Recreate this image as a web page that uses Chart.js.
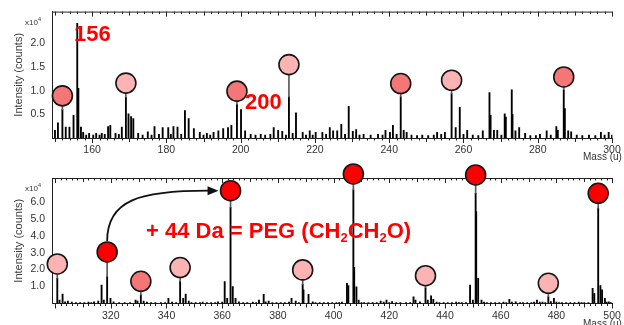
<!DOCTYPE html>
<html><head><meta charset="utf-8">
<script src="https://cdn.jsdelivr.net/npm/chart.js@4.4.1/dist/chart.umd.min.js"></script>
<style>
html,body{margin:0;padding:0;background:#fff;overflow:hidden;}
#wrap{position:relative;width:624px;height:325px;font-family:"Liberation Sans",Arial,sans-serif;}
canvas{position:absolute;left:0;}
#c1{top:0;}
#c2{top:160px;}
.lbl{position:absolute;white-space:nowrap;}
.red{color:#ff0000;font-weight:bold;font-size:22px;line-height:22px;}
.red span{font-size:13px;position:relative;top:4px;}
.mult{font-size:8px;line-height:8px;color:#333;}
.mult span{font-size:5.5px;position:relative;top:-4px;}
.mass{font-size:10px;line-height:10px;color:#333;}
</style></head>
<body><div id="wrap">
<canvas id="c1" width="624" height="160"></canvas>
<canvas id="c2" width="624" height="165"></canvas>
<div class="lbl red" style="left:74px;top:23px;">156</div>
<div class="lbl red" style="left:245px;top:91px;">200</div>
<div class="lbl red" style="left:146px;top:220px;">+ 44 Da = PEG (CH<span>2</span>CH<span>2</span>O)</div>
<div class="lbl mult" style="left:25px;top:19px;">x10<span>4</span></div>
<div class="lbl mult" style="left:25px;top:185px;">x10<span>4</span></div>
<div class="lbl mass" style="left:583px;top:152px;">Mass (u)</div>
<div class="lbl mass" style="left:583px;top:319px;">Mass (u)</div>
</div>
<script>
// ---- Top spectrum (intensity in units of 10^4 counts) ----
const topMass = [150.0,150.8,152.0,152.9,153.9,155.0,156.0,156.3,157.0,157.6,158.4,159.2,160.3,161.1,162.0,162.6,163.4,164.3,164.9,166.3,167.2,168.0,169.1,169.8,170.5,171.1,172.4,173.6,175.0,176.0,176.8,178.0,179.0,180.5,181.2,181.9,183.0,184.0,185.0,186.0,187.4,189.0,190.0,190.9,191.8,192.7,194.0,195.3,196.6,197.5,199.0,200.1,201.2,202.7,204.0,205.4,206.6,208.0,208.9,210.1,211.2,212.2,213.0,214.0,214.9,216.7,217.6,218.6,219.4,220.2,222.0,223.0,224.0,224.9,226.0,227.1,228.1,229.1,230.2,231.1,232.0,233.1,235.0,237.0,238.2,239.0,240.2,241.0,242.0,243.1,243.9,244.7,246.0,247.5,248.9,250.5,252.0,252.9,254.0,255.0,256.8,257.9,259.0,260.0,261.0,262.5,264.0,265.2,267.0,267.3,268.2,269.1,270.2,271.1,271.4,273.0,273.2,274.0,275.0,276.6,278.0,279.5,280.6,282.4,283.5,285.0,285.4,287.0,287.3,288.2,289.0,290.5,292.0,293.8,295.5,297.0,298.0,299.1,300.0];
const topInt  = [0.16,0.32,0.60,0.23,0.23,0.48,2.42,1.05,0.23,0.12,0.06,0.10,0.06,0.10,0.06,0.10,0.08,0.24,0.27,0.10,0.08,0.23,0.86,0.51,0.45,0.41,0.10,0.06,0.13,0.06,0.24,0.08,0.22,0.22,0.08,0.24,0.23,0.08,0.58,0.41,0.20,0.12,0.06,0.10,0.06,0.12,0.15,0.20,0.22,0.27,0.71,0.60,0.15,0.08,0.06,0.08,0.06,0.08,0.22,0.16,0.14,0.06,0.87,0.10,0.53,0.12,0.06,0.15,0.06,0.12,0.12,0.08,0.22,0.15,0.15,0.29,0.08,0.67,0.14,0.18,0.06,0.08,0.06,0.08,0.06,0.16,0.12,0.27,0.08,0.87,0.16,0.12,0.06,0.05,0.06,0.05,0.06,0.12,0.08,0.12,0.94,0.22,0.65,0.08,0.16,0.06,0.05,0.15,0.96,0.48,0.16,0.16,0.06,0.51,0.44,1.02,0.50,0.15,0.22,0.10,0.05,0.05,0.08,0.15,0.06,0.24,0.16,1.02,0.62,0.15,0.13,0.06,0.05,0.06,0.05,0.12,0.06,0.12,0.06];
const topCircMass = [152.0,169.1,199.0,213.0,243.1,256.8,287.0];
const topCircPeak = [0.60,0.86,0.71,0.87,0.87,0.94,1.02];
const topCircInt  = [0.89,1.16,0.99,1.55,1.15,1.22,1.29];
const topCircKind = ['s','p','s','p','s','p','s'];
const topXLabels = [160,180,200,220,240,260,280,300];
const topYLabels = [0.5,1.0,1.5,2.0];

// ---- Bottom spectrum ----
const botMass = [300.8,301.6,302.7,303.6,304.6,306.0,307.5,309.0,310.5,312.0,313.0,314.0,315.5,316.7,317.5,318.7,319.9,321.0,323.0,325.0,327.0,328.9,329.6,330.8,331.8,333.0,334.5,336.0,338.0,339.5,340.7,342.0,343.5,344.9,346.0,346.9,348.0,349.0,350.5,352.0,353.0,354.5,356.0,357.5,358.5,360.0,360.9,361.8,363.0,363.8,364.8,366.0,367.5,369.0,371.0,372.2,373.2,374.9,375.6,376.7,378.0,379.5,381.0,382.5,384.0,384.9,386.4,387.5,388.9,389.2,391.0,392.5,393.5,395.0,396.5,398.0,399.5,401.0,402.0,403.0,404.8,405.3,407.1,407.4,408.2,409.0,410.0,411.0,412.5,414.0,415.5,416.9,418.0,419.0,420.0,421.0,422.5,424.0,426.0,427.5,428.7,429.4,431.0,433.0,433.8,435.0,435.8,437.0,438.0,439.5,441.0,442.5,444.0,445.0,446.0,447.5,449.0,450.0,451.0,451.2,451.9,453.1,454.0,455.0,456.5,458.0,459.5,461.0,462.0,463.1,464.0,465.4,467.0,468.0,469.5,471.0,472.0,473.0,474.0,475.0,476.0,477.1,478.0,479.1,480.0,481.0,482.0,483.5,485.0,486.5,488.0,489.0,490.0,491.5,493.0,493.6,495.0,495.8,496.4,497.4,498.0,498.8,499.5];
const botInt  = [1.49,0.20,0.56,0.10,0.15,0.08,0.05,0.06,0.05,0.08,0.05,0.10,0.15,1.09,0.20,1.58,0.30,0.10,0.05,0.06,0.05,0.20,0.15,0.50,0.15,0.08,0.05,0.06,0.05,0.06,0.30,0.08,0.05,1.30,0.30,0.56,0.15,0.06,0.06,0.05,0.08,0.05,0.06,0.05,0.10,0.08,1.29,0.30,5.67,1.00,0.30,0.10,0.05,0.06,0.08,0.06,0.20,0.54,0.10,0.15,0.06,0.05,0.06,0.05,0.08,0.30,0.15,0.06,1.13,0.80,0.54,0.10,0.06,0.06,0.05,0.05,0.06,0.06,0.05,0.08,1.19,1.05,6.70,2.13,0.99,0.20,0.06,0.06,0.05,0.06,0.05,0.15,0.08,0.20,0.06,0.12,0.05,0.06,0.05,0.06,0.40,0.20,0.10,0.93,0.20,0.45,0.25,0.08,0.06,0.05,0.06,0.05,0.08,0.05,0.05,0.06,1.09,0.20,6.50,5.42,1.49,0.20,0.08,0.06,0.05,0.05,0.05,0.08,0.06,0.25,0.08,0.10,0.05,0.05,0.05,0.06,0.08,0.20,0.08,0.08,0.05,0.40,0.12,0.30,0.08,0.06,0.06,0.05,0.05,0.06,0.08,0.05,0.06,0.05,0.90,0.60,5.62,1.05,0.80,0.30,0.08,0.10,0.05];
const botCircMass = [300.8,318.7,330.8,344.9,363.0,388.9,407.1,433.0,451.0,477.1,495.0];
const botCircPeak = [1.49,1.58,0.50,1.30,5.67,1.13,6.70,0.93,6.50,0.40,5.62];
const botCircInt  = [2.33,3.04,1.31,2.12,6.65,1.98,7.64,1.64,7.58,1.19,6.50];
const botCircKind = ['p','r','s','p','r','p','r','p','r','p','r'];
const botXLabels = [320,340,360,380,400,420,440,460,480,500];
const botYLabels = [1,2,3,4,5,6];
const arrowFromIdx = 1, arrowToIdx = 4;

const kindColor = {s:'#f47676', p:'#fbb3b3', r:'#fa0000'};
Chart.defaults.font.family = "'Liberation Sans', Arial, sans-serif";

const framePlugin = {
  id:'frame',
  beforeDatasetsDraw(chart){
    const {ctx, chartArea:a, scales:{x}} = chart;
    ctx.save();
    ctx.strokeStyle = '#222'; ctx.lineWidth = 1;
    ctx.beginPath();
    ctx.moveTo(a.left, a.top + 0.5); ctx.lineTo(a.right, a.top + 0.5);
    for (let v = Math.ceil(x.min / 2) * 2; v <= x.max; v += 2) {
      const px = Math.round(x.getPixelForValue(v)) + 0.5;
      const len = v % 20 === 0 ? 5 : (v % 10 === 0 ? 4 : 2.5);
      ctx.moveTo(px, a.bottom); ctx.lineTo(px, a.bottom + len);
      ctx.moveTo(px, a.top); ctx.lineTo(px, a.top + len);
    }
    ctx.stroke();
    ctx.restore();
  }
};

const arrowPlugin = {
  id:'arrow',
  afterDatasetsDraw(chart){
    if (!chart.options.plugins.arrow || !chart.options.plugins.arrow.on) return;
    const {ctx, scales:{x, y}} = chart;
    const r = 11;
    const x0 = x.getPixelForValue(botCircMass[arrowFromIdx]);
    const y0 = y.getPixelForValue(botCircInt[arrowFromIdx]) - r;
    const tipX = x.getPixelForValue(botCircMass[arrowToIdx]) - r - 1;
    const y1 = y.getPixelForValue(botCircInt[arrowToIdx]);
    const endX = tipX - 10;
    ctx.save();
    ctx.strokeStyle = '#111'; ctx.fillStyle = '#111'; ctx.lineWidth = 1.8;
    ctx.beginPath();
    ctx.moveTo(x0, y0);
    ctx.bezierCurveTo(x0, y1 + 9, x0 + 33, y1, endX, y1);
    ctx.stroke();
    ctx.beginPath();
    ctx.moveTo(tipX, y1); ctx.lineTo(endX - 1, y1 - 4.5); ctx.lineTo(endX - 1, y1 + 4.5); ctx.closePath();
    ctx.fill();
    ctx.restore();
  }
};

function makeChart(id, cfg){
  const peaks = cfg.mass.map((m, i) => ({x:m, y:cfg.inten[i]}));
  const stems = cfg.cMass.map((m, i) => ({x:m, y:[cfg.cPeak[i], cfg.cInt[i]]}));
  const circs = cfg.cMass.map((m, i) => ({x:m, y:cfg.cInt[i]}));
  const colors = cfg.cKind.map(k => kindColor[k]);
  return new Chart(document.getElementById(id), {
    type:'bar',
    data:{datasets:[
      {type:'line', data:circs, showLine:false, pointRadius:10, pointHoverRadius:10,
       pointBackgroundColor:colors, pointBorderColor:'#161616', pointBorderWidth:1.6, clip:false, order:1},
      {type:'bar', data:stems, backgroundColor:'#5a5a5a', barThickness:1, grouped:false, order:2},
      {type:'bar', data:peaks, backgroundColor:'#000', barThickness:1.2, grouped:false, order:3}
    ]},
    options:{
      responsive:false, animation:false, events:[],
      layout:{padding:{top:cfg.padTop, left:0, right:0, bottom:0}},
      plugins:{legend:{display:false}, tooltip:{enabled:false}, arrow:{on:cfg.arrow}},
      scales:{
        x:{type:'linear', min:cfg.xmin, max:cfg.xmax, offset:false,
           grid:{display:false, drawTicks:false},
           border:{display:true, color:'#222', width:1},
           ticks:{stepSize:20, autoSkip:false, includeBounds:false, maxRotation:0, padding:6,
                  color:'#333', font:{size:10.5},
                  callback:v => cfg.xLabels.some(l => Math.abs(l - v) < 1e-6) ? String(Math.round(v)) : ''},
           afterFit:s => { s.height = cfg.xH; s.paddingLeft = 0; s.paddingRight = 0; }},
        y:{type:'linear', min:0, max:cfg.ymax,
           grid:{display:false, drawTicks:false},
           border:{display:true, color:'#222', width:1},
           ticks:{stepSize:cfg.yStep, includeBounds:false, padding:7, color:'#333', font:{size:10.5},
                  callback:v => cfg.yLabels.some(l => Math.abs(l - v) < 1e-6) ? v.toFixed(1) : ''},
           title:{display:true, text:'Intensity (counts)', color:'#3a3a3a', font:{size:11}, padding:{top:12, bottom:0}},
           afterFit:s => { s.width = 52; s.paddingTop = 0; s.paddingBottom = 0; }}
      }
    },
    plugins:[framePlugin, arrowPlugin]
  });
}

makeChart('c1', {mass:topMass, inten:topInt, cMass:topCircMass, cPeak:topCircPeak, cInt:topCircInt, cKind:topCircKind,
  xmin:149.2, xmax:300.1, ymax:2.67, yStep:0.5, xLabels:topXLabels, yLabels:topYLabels, padTop:11, xH:22, arrow:false});
makeChart('c2', {mass:botMass, inten:botInt, cMass:botCircMass, cPeak:botCircPeak, cInt:botCircInt, cKind:botCircKind,
  xmin:298.9, xmax:500.1, ymax:7.4, yStep:1, xLabels:botXLabels, yLabels:botYLabels, padTop:18, xH:21.5, arrow:true});
</script>
</body></html>
